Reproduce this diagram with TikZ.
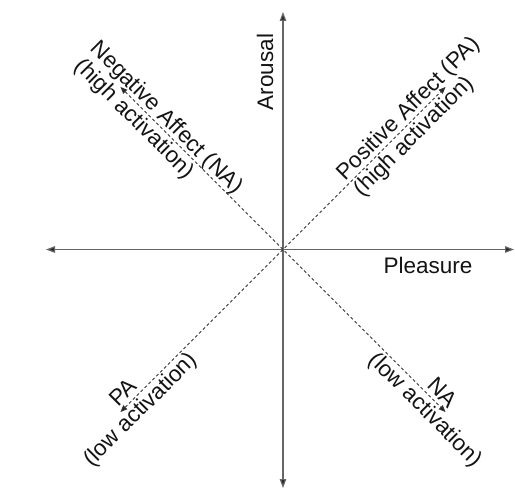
\documentclass[tikz,border=0pt]{standalone}
\usepackage{fontspec}
\setmainfont{Liberation Sans}
\usetikzlibrary{arrows.meta}
\begin{document}
\begin{tikzpicture}[x=1pt,y=-1pt,
  axis/.style={draw=black!60, line width=1.2pt,
    {Triangle[length=9pt,width=6.5pt,fill=black!85]}-{Triangle[length=9pt,width=6.5pt,fill=black!85]}},
  diag/.style={draw=black!80, line width=1pt, dash pattern=on 3pt off 2.5pt,
    {Triangle[length=7pt,width=5.5pt,fill=black!85]}-{Triangle[length=7pt,width=5.5pt,fill=black!85]}},
  lbl/.style={inner sep=0pt, font=\fontsize{22.5}{27}\selectfont, text=black!92}]
\fill[white] (0,0) rectangle (515,500);
\useasboundingbox (0,0) rectangle (515,500);
% axis ends
\coordinate (O) at (283,249.5);
\coordinate (top) at (283,12);
\coordinate (bottom) at (283,488);
\coordinate (left) at (46,249.5);
\coordinate (right) at (514,249.5);
% diagonal ends
\coordinate (nw) at (120.4,86.9);
\coordinate (ne) at (445.6,86.9);
\coordinate (sw) at (120.4,412.1);
\coordinate (se) at (445.6,412.1);
% axes
\draw[axis] (bottom) -- (top);
\draw[axis] (left) -- (right);
% diagonals
\draw[diag] (nw) -- (se);
\draw[diag] (sw) -- (ne);
% axis labels
\node[lbl, rotate=90] (arousal) at (265,72) {Arousal};
\node[lbl] (pleasure) at (428,265) {Pleasure};
% NW
\node[lbl, rotate=-45, anchor=base west] (na1) at (89.6,49.7) {Negative Affect (NA)};
\node[lbl, rotate=-45, anchor=base west] (na2) at (73.7,67.1) {(high activation)};
% NE
\node[lbl, rotate=45, anchor=base west] (pa1) at (344.9,181.3) {Positive Affect (PA)};
\node[lbl, rotate=45, anchor=base west] (pa2) at (362.2,197.2) {(high activation)};
% SW
\node[lbl, rotate=45, anchor=base] (pal1) at (128.5,397.6) {PA};
\node[lbl, rotate=45, anchor=base] (pal2) at (145.1,414.3) {(low activation)};
% SE
\node[lbl, rotate=-45, anchor=base] (nal1) at (437.5,397.6) {NA};
\node[lbl, rotate=-45, anchor=base] (nal2) at (420.9,414.3) {(low activation)};
\end{tikzpicture}
\end{document}
